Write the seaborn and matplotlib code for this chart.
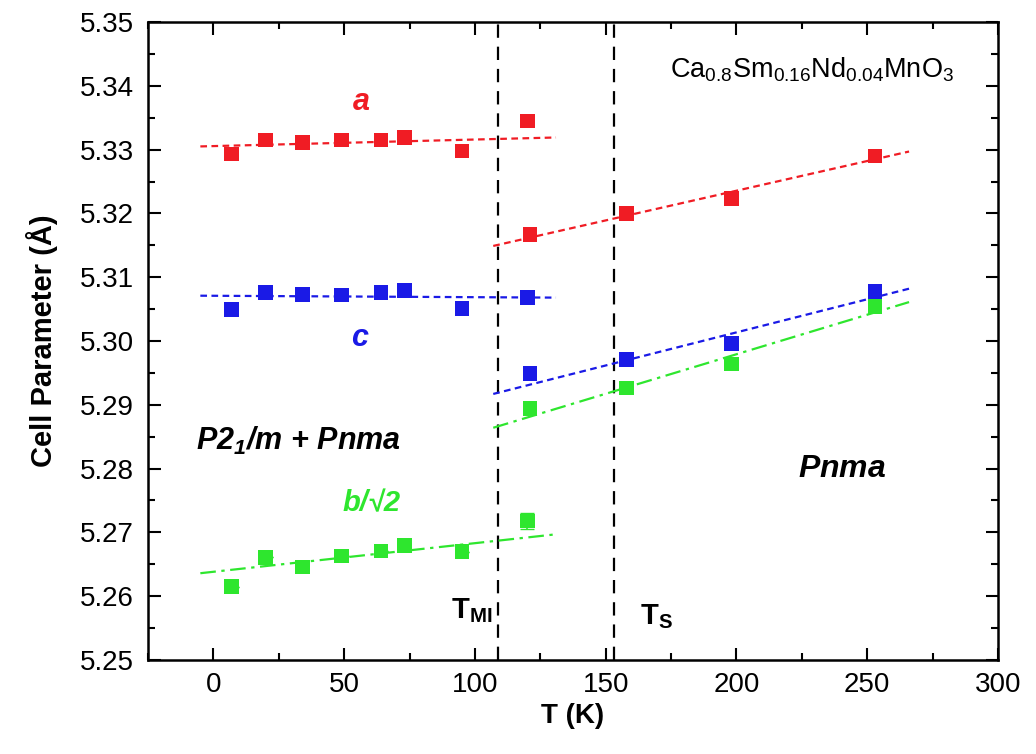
import numpy as np
import pandas as pd
import matplotlib
matplotlib.use("Agg")
import matplotlib.pyplot as plt
import seaborn as sns
from matplotlib.ticker import MultipleLocator, FormatStrFormatter

# ---------------- data ----------------
T_low = [7, 20, 34, 49, 64, 73, 95, 120]
a_low = [5.3293, 5.3315, 5.3311, 5.3315, 5.3315, 5.3319, 5.3298, 5.3345]
c_low = [5.3049, 5.3076, 5.3073, 5.3072, 5.3076, 5.3079, 5.3051, 5.3068]
b_low = [5.2615, 5.2661, 5.2646, 5.2663, 5.2671, 5.2679, 5.2670, 5.2718]
b_low_err = [0, 0, 0, 0, 0, 0, 0, 0.0013]

T_high = [121, 158, 198, 253]
a_high = [5.3167, 5.3200, 5.3223, 5.3290]
c_high = [5.2949, 5.2971, 5.2996, 5.3078]
b_high = [5.2894, 5.2926, 5.2964, 5.3054]

# fitted lines (end points)
fit_low_T = [-5, 131]
fit_a_low = [5.3305, 5.3319]
fit_c_low = [5.3071, 5.3068]
fit_b_low = [5.2636, 5.2697]
fit_high_T = [107, 266]
fit_a_high = [5.3149, 5.3297]
fit_c_high = [5.2917, 5.3082]
fit_b_high = [5.2864, 5.3061]

T_MI = 109
T_S = 153

RED = "#f01c24"
BLUE = "#1a1ae6"
GREEN = "#2ee62e"

sns.set_theme(style="ticks")
plt.rcParams["font.family"] = ["Liberation Sans", "DejaVu Sans"]
plt.rcParams["mathtext.fontset"] = "custom"
plt.rcParams["mathtext.rm"] = "Liberation Sans"
plt.rcParams["mathtext.it"] = "Liberation Sans:italic"
plt.rcParams["mathtext.bf"] = "Liberation Sans:bold"
plt.rcParams["mathtext.bfit"] = "Liberation Sans:italic:bold"
plt.rcParams["mathtext.default"] = "regular"
for k in ("text.color", "axes.labelcolor", "xtick.color", "ytick.color",
          "axes.edgecolor"):
    plt.rcParams[k] = "black"

fig = plt.figure(figsize=(10.36, 7.54), dpi=100)
ax = fig.add_axes([0.1429, 0.1247, 0.8204, 0.8461])

df_low = pd.DataFrame({"T": T_low, "a": a_low, "c": c_low, "b": b_low})
df_high = pd.DataFrame({"T": T_high, "a": a_high, "c": c_high, "b": b_high})

# vertical transition lines
for tv in (T_MI, T_S):
    ax.axvline(tv, color="black", lw=1.6, ls=(0, (6, 4)), zorder=1)

# fit lines
dash = (0, (3, 2))
dashdot = (0, (7, 2.5, 1.5, 2.5))
for T_, y_, col, ls in [
    (fit_low_T, fit_a_low, RED, dash), (fit_low_T, fit_c_low, BLUE, dash),
    (fit_low_T, fit_b_low, GREEN, dashdot),
    (fit_high_T, fit_a_high, RED, dash), (fit_high_T, fit_c_high, BLUE, dash),
    (fit_high_T, fit_b_high, GREEN, dashdot)]:
    sns.lineplot(x=T_, y=y_, ax=ax, color=col, lw=1.6, linestyle=ls, zorder=2)

# error bar
ax.errorbar(T_low, b_low, yerr=b_low_err, fmt="none", ecolor=GREEN, elinewidth=1.2,
            capsize=5, zorder=3)

# points
for df in (df_low, df_high):
    for col_name, col in (("a", RED), ("c", BLUE), ("b", GREEN)):
        sns.scatterplot(data=df, x="T", y=col_name, ax=ax, color=col, marker="s",
                        s=110, edgecolor="none", zorder=4)

ax.set_xlim(-25, 300)
ax.set_ylim(5.25, 5.35)
ax.xaxis.set_major_locator(MultipleLocator(50))
ax.xaxis.set_minor_locator(MultipleLocator(25))
ax.yaxis.set_major_locator(MultipleLocator(0.01))
ax.yaxis.set_minor_locator(MultipleLocator(0.005))
ax.yaxis.set_major_formatter(FormatStrFormatter("%.2f"))
ax.tick_params(which="both", direction="in", top=True, right=True, width=1.5,
               colors="black")
ax.tick_params(which="major", length=9)
ax.tick_params(which="minor", length=5)
ax.tick_params(axis="x", labelsize=20, pad=9)
ax.tick_params(axis="y", labelsize=20, pad=10)
for sp in ax.spines.values():
    sp.set_linewidth(1.8)
    sp.set_color("black")

ax.set_xlabel("T (K)", fontsize=20, fontweight="bold", labelpad=3)
ax.set_ylabel("Cell Parameter (Å)", fontsize=21, fontweight="bold", labelpad=16)

# annotations
ax.text(56.5, 5.3374, "a", color=RED, fontsize=22, fontweight="bold", style="italic",
        ha="center", va="center")
ax.text(56, 5.3004, "c", color=BLUE, fontsize=22, fontweight="bold", style="italic",
        ha="center", va="center")
ax.text(60.5, 5.2746, "b/√2", color=GREEN, fontsize=21, fontweight="bold",
        style="italic", ha="center", va="center")
ax.text(-6.5, 5.2844, r"$\mathbfit{P2_1/m\ {+}\ Pnma}$", color="black", fontsize=22,
        ha="left", va="center")
ax.text(240.5, 5.2800, r"$\mathbfit{Pnma}$", color="black", fontsize=23,
        ha="center", va="center")
ax.text(229, 5.3425, r"Ca$_{0.8}$Sm$_{0.16}$Nd$_{0.04}$MnO$_3$", color="black",
        fontsize=19.5, ha="center", va="center")
ax.text(106.5, 5.2578, r"$\mathbf{T_{MI}}$", color="black", fontsize=21,
        ha="right", va="center")
ax.text(163, 5.2568, r"$\mathbf{T_S}$", color="black", fontsize=21,
        ha="left", va="center")

fig.savefig("out.png", dpi=100)
